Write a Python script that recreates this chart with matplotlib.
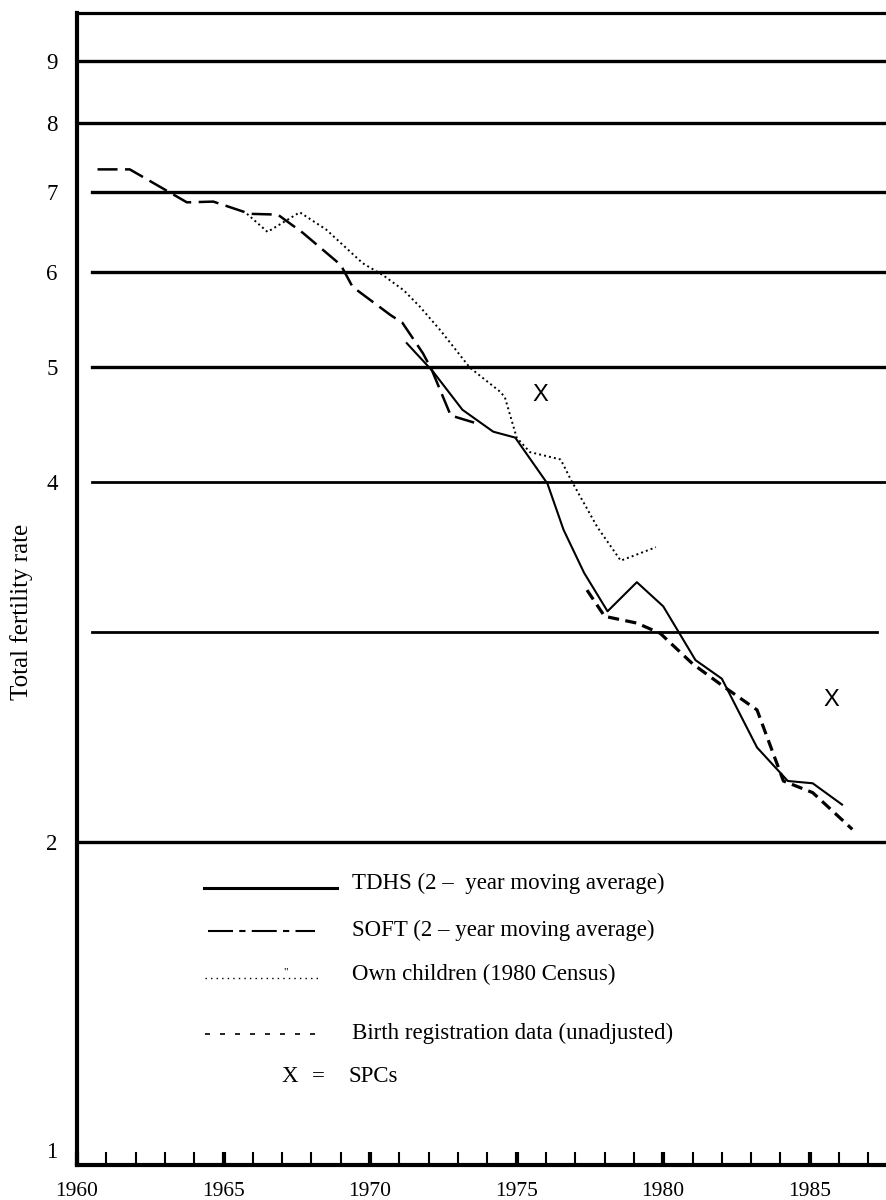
import numpy as np
import matplotlib.pyplot as plt
from matplotlib.lines import Line2D
from matplotlib.ticker import NullLocator

plt.rcParams['font.family'] = ['Liberation Serif', 'DejaVu Serif']

# Datos
soft_year = [1960.7, 1961.8, 1963.75, 1964.65, 1965.9, 1966.85, 1967.7, 1969.0,
             1969.4, 1970.7, 1971.1, 1971.8, 1972.1, 1972.75, 1973.65]
soft_tfr = [7.31, 7.31, 6.86, 6.87, 6.71, 6.70, 6.47, 6.08,
            5.83, 5.52, 5.44, 5.13, 4.97, 4.55, 4.48]

own_year = [1965.8, 1966.5, 1967.6, 1968.5, 1969.75, 1970.45, 1971.15, 1971.7,
            1972.4, 1973.4, 1974.45, 1974.6, 1975.0, 1975.45, 1976.5, 1976.85,
            1977.75, 1978.55, 1979.75]
own_tfr = [6.71, 6.48, 6.73, 6.51, 6.10, 5.96, 5.79, 5.61,
           5.36, 4.99, 4.76, 4.71, 4.36, 4.24, 4.18, 4.02,
           3.67, 3.44, 3.53]

tdhs_year = [1971.25, 1972.15, 1973.15, 1974.2, 1974.95, 1976.05, 1976.6, 1977.3,
             1978.1, 1979.1, 1980.0, 1981.1, 1982.0, 1983.2, 1984.25, 1985.1, 1986.1]
tdhs_tfr = [5.23, 4.95, 4.60, 4.41, 4.36, 3.99, 3.65, 3.36,
            3.12, 3.30, 3.15, 2.84, 2.74, 2.40, 2.25, 2.24, 2.15]

birth_year = [1977.4, 1978.0, 1979.1, 1979.9, 1981.0, 1982.05, 1983.2, 1984.1,
              1985.1, 1986.45]
birth_tfr = [3.25, 3.09, 3.05, 2.99, 2.82, 2.70, 2.58, 2.25, 2.20, 2.05]

spc_year = [1975.8, 1985.75]
spc_tfr = [4.73, 2.63]

grid_levels = [2, 3, 4, 5, 6, 7, 8, 9]
ytick_values = [1, 2, 4, 5, 6, 7, 8, 9]
xtick_years = [1960, 1965, 1970, 1975, 1980, 1985]

W, H = 886, 1200
fig = plt.figure(figsize=(W / 100, H / 100), dpi=100)
ax = fig.add_axes([77 / W, 35 / H, 809 / W, 1152 / H])

# Escala logaritmica, comprimida entre 1 y 2 como en el original
L2 = np.log10(2)
K = 0.856


def fwd(v):
    s = np.log10(np.clip(np.asarray(v, dtype=float), 1e-6, None))
    return np.where(s >= L2, s, L2 - (L2 - s) * K)


def inv(s):
    s = np.asarray(s, dtype=float)
    return np.where(s >= L2, 10 ** s, 10 ** (L2 - (L2 - s) / K))


ax.set_yscale('function', functions=(fwd, inv))
ax.set_xlim(1960, 1987.6)
ax.set_ylim(0.967, 9.88)

# Lineas horizontales
for lv in grid_levels:
    x0 = 0.0 if lv in (2, 8, 9) else 0.0185
    x1 = 0.989 if lv == 3 else 1.0
    lw = 2.0 if lv in (3, 4) else 2.4
    ax.axhline(lv, x0, x1, color='k', lw=lw)

# Series
ax.plot(soft_year, soft_tfr, color='k', lw=1.8, ls=(0, (8, 3)))
ax.plot(own_year, own_tfr, color='k', lw=1.4, ls=(0, (1, 1.6)))
ax.plot(tdhs_year, tdhs_tfr, color='k', lw=1.5, ls='-')
ax.plot(birth_year, birth_tfr, color='k', lw=2.3, ls=(0, (3.5, 2)))
for x, y in zip(spc_year, spc_tfr):
    ax.text(x, y, 'X', ha='center', va='center', fontsize=17,
            family='Liberation Sans')

# Ejes
ax.set_xticks(xtick_years, [str(y) for y in xtick_years])
ax.set_xticks(range(1961, 1988), minor=True)
ax.tick_params(axis='x', which='major', direction='in', length=9.5, width=3,
               pad=12, labelsize=15.5)
ax.tick_params(axis='x', which='minor', direction='in', length=9.5, width=1.5)
ax.set_yticks(ytick_values, [str(v) for v in ytick_values])
ax.yaxis.set_minor_locator(NullLocator())
ax.tick_params(axis='y', length=0, pad=14, labelsize=16.5)

ax.spines['right'].set_visible(False)
ax.spines['left'].set_linewidth(3)
ax.spines['bottom'].set_linewidth(3)
ax.spines['top'].set_linewidth(2.3)

fig.text(22 / W, 1 - 612 / H, 'Total fertility rate', rotation=90,
         ha='center', va='center', fontsize=18)


# Leyenda dibujada a mano
def fx(px):
    return px / W


def fy(py):
    return 1 - py / H


fig.add_artist(Line2D([fx(204), fx(337)], [fy(888)] * 2, color='k', lw=2.2))
fig.add_artist(Line2D([fx(208), fx(315)], [fy(931)] * 2, color='k', lw=1.5,
                      ls=(0, (12, 3, 3, 3))))
fig.add_artist(Line2D([fx(205), fx(318)], [fy(978)] * 2, color='k', lw=1.0,
                      ls=(0, (1, 3))))
fig.text(fx(286), fy(972), '"', ha='center', va='center', fontsize=8)
fig.add_artist(Line2D([fx(205), fx(322)], [fy(1034)] * 2, color='k', lw=1.2,
                      ls=(0, (3, 6))))

legend_labels = ['TDHS (2 \u2013  year moving average)',
                 'SOFT (2 \u2013 year moving average)',
                 'Own children (1980 Census)',
                 'Birth registration data (unadjusted)']
legend_y = [883, 930, 974, 1033]
for lab, py in zip(legend_labels, legend_y):
    fig.text(fx(352), fy(py), lab, ha='left', va='center', fontsize=16.5)

fig.text(fx(290), fy(1077), 'X', ha='center', va='center', fontsize=16.5)
fig.text(fx(318), fy(1077), '=', ha='center', va='center', fontsize=16.5)
fig.text(fx(348), fy(1077), 'SPCs', ha='left', va='center', fontsize=16.5)

fig.savefig('out.png', dpi=100)
